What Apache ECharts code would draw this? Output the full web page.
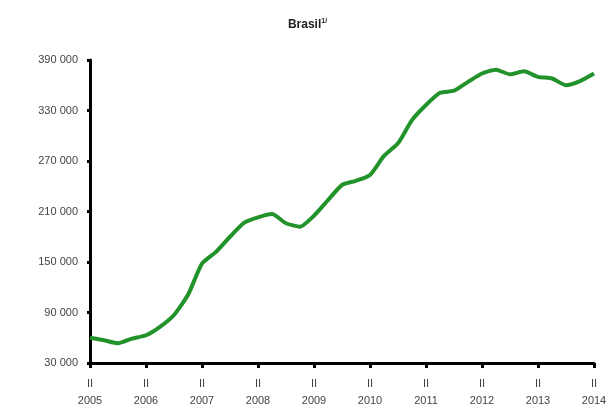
<!DOCTYPE html>
<html>
<head>
<meta charset="utf-8">
<script src="https://cdn.jsdelivr.net/npm/echarts@6/dist/echarts.min.js"></script>
<style>html,body{margin:0;padding:0;background:#fff}#c{width:615px;height:410px}</style>
</head>
<body>
<div id="c"></div>
<script>
var years = ['2005','2006','2007','2008','2009','2010','2011','2012','2013','2014'];
var quarters = ['II','III','IV','I'];
var values = [
  60000, 57000, 53500, 59000, 63000, 73000, 87000, 111000, 148000, 162000,
  180000, 196500, 203000, 207000, 196000, 192000, 205000, 223500, 241500, 246500,
  253500, 276000, 291000, 318500, 336500, 351000, 353500, 364000, 374000, 378500,
  373000, 376500, 370000, 368000, 360000, 365000, 374000
];
var yTicks = [30000, 90000, 150000, 210000, 270000, 330000, 390000];

var categories = [];
for (var i = 0; i < values.length; i++) {
  var q = quarters[i % 4];
  var yr = years[0] * 1 + Math.floor((i + 1) / 4);
  categories.push(q + '\n' + yr);
}

var chart = echarts.init(document.getElementById('c'));
chart.setOption({
  animation: false,
  backgroundColor: '#fff',
  title: {
    text: '{a|Brasil}{b|1/}',
    left: 'center',
    top: 13,
    textStyle: {
      rich: {
        a: { fontFamily: 'Liberation Sans', fontWeight: 'bold', fontSize: 12, color: '#222' },
        b: { fontFamily: 'Liberation Sans', fontWeight: 'bold', fontSize: 7, color: '#222', verticalAlign: 'top', padding: [0,0,6,0] }
      }
    }
  },
  grid: { left: 90, right: 21, top: 60, bottom: 47 },
  xAxis: {
    type: 'category',
    data: categories,
    boundaryGap: false,
    axisLine: { lineStyle: { color: '#000', width: 3 } },
    axisTick: { interval: 3, length: 5, lineStyle: { color: '#000', width: 3 } },
    axisLabel: {
      interval: 3,
      color: '#444',
      fontFamily: 'Liberation Sans',
      fontSize: 11,
      lineHeight: 17,
      margin: 12
    },
    splitLine: { show: false }
  },
  yAxis: {
    type: 'value',
    min: yTicks[0],
    max: yTicks[yTicks.length - 1],
    interval: 60000,
    axisLine: { show: true, lineStyle: { color: '#000', width: 3 } },
    axisTick: { show: true, length: 3, lineStyle: { color: '#000', width: 3 } },
    axisLabel: {
      color: '#444',
      fontFamily: 'Liberation Sans',
      fontSize: 11,
      margin: 12,
      formatter: function (v) {
        return String(v).replace(/\B(?=(\d{3})+(?!\d))/g, ' ');
      }
    },
    splitLine: { show: false }
  },
  series: [{
    type: 'line',
    data: values,
    symbol: 'none',
    smooth: 0.2,
    lineStyle: { color: '#22922a', width: 4 }
  }]
});
</script>
</body>
</html>
